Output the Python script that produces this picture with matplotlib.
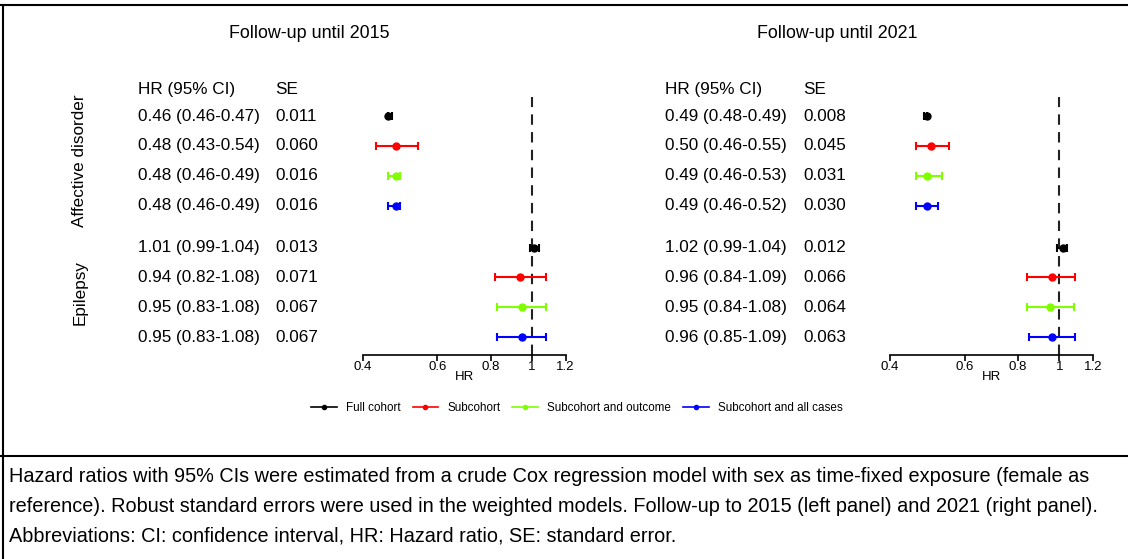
"""Forest plot: HR by sex, follow-up until 2015 and 2021"""

import matplotlib
matplotlib.use('Agg')
from matplotlib import pyplot as plt
from matplotlib.lines import Line2D
from matplotlib.transforms import blended_transform_factory

plt.rcParams['font.family'] = ['Liberation Sans', 'DejaVu Sans']

# Data
outcomes = ['Affective disorder', 'Epilepsy']
models = ['Full cohort', 'Subcohort', 'Subcohort and outcome', 'Subcohort and all cases']
colors = ['black', '#ff0000', '#7fff00', '#0000ff']

hr_2015 = [0.46, 0.48, 0.48, 0.48, 1.01, 0.94, 0.95, 0.95]
lo_2015 = [0.46, 0.43, 0.46, 0.46, 0.99, 0.82, 0.83, 0.83]
hi_2015 = [0.47, 0.54, 0.49, 0.49, 1.04, 1.08, 1.08, 1.08]
se_2015 = ['0.011', '0.060', '0.016', '0.016', '0.013', '0.071', '0.067', '0.067']

hr_2021 = [0.49, 0.50, 0.49, 0.49, 1.02, 0.96, 0.95, 0.96]
lo_2021 = [0.48, 0.46, 0.46, 0.46, 0.99, 0.84, 0.84, 0.85]
hi_2021 = [0.49, 0.55, 0.53, 0.52, 1.04, 1.09, 1.08, 1.09]
se_2021 = ['0.008', '0.045', '0.031', '0.030', '0.012', '0.066', '0.064', '0.063']

ticks = [0.4, 0.6, 0.8, 1, 1.2]
tick_labels = ['0.4', '0.6', '0.8', '1', '1.2']

caption = [
    "Hazard ratios with 95% CIs were estimated from a crude Cox regression model with sex as time-fixed exposure (female as",
    "reference). Robust standard errors were used in the weighted models. Follow-up to 2015 (left panel) and 2021 (right panel).",
    "Abbreviations: CI: confidence interval, HR: Hazard ratio, SE: standard error.",
]

W, H = 1128, 559
fig = plt.figure(figsize=(W / 100, H / 100), dpi=100)

# row positions: 4 rows per outcome, with a gap between outcomes
ypos = [i + (0.4 if i >= 4 else 0) for i in range(8)]
TXT = 12.3


def panel(left_px, hr_x, se_x, title_x, title, hr, lo, hi, se):
    ax = fig.add_axes([left_px / W, 1 - 355 / H, 203 / W, (355 - 97) / H])
    for i, y in enumerate(ypos):
        c = colors[i % 4]
        ax.errorbar(hr[i], y, xerr=[[hr[i] - lo[i]], [hi[i] - hr[i]]], fmt='o',
                    color=c, ms=5, lw=1.5, capsize=3.2, capthick=1.5)
    ax.axvline(1, color='#222222', lw=1.5, ls=(0, (5, 3.5)), zorder=0)
    ax.set_xscale('log')
    ax.set_xlim(0.4, 1.2)
    ax.set_ylim(7.4 + 0.6, -0.64)
    ax.set_xticks(ticks)
    ax.set_xticklabels(tick_labels)
    ax.minorticks_off()
    ax.set_yticks([])
    for s in ['top', 'right', 'left']:
        ax.spines[s].set_visible(False)
    ax.spines['bottom'].set_linewidth(1.2)
    ax.tick_params(axis='x', labelsize=9.5, length=4, width=1.2, pad=0)
    ax.set_xlabel('HR', fontsize=9.5, labelpad=-1)

    tr = blended_transform_factory(fig.transFigure, ax.transData)
    fig.text(hr_x / W, -0.9, 'HR (95% CI)', transform=tr, fontsize=TXT, va='center')
    fig.text(se_x / W, -0.9, 'SE', transform=tr, fontsize=TXT, va='center')
    for i, y in enumerate(ypos):
        fig.text(hr_x / W, y, f'{hr[i]:.2f} ({lo[i]:.2f}-{hi[i]:.2f})',
                 transform=tr, fontsize=TXT, va='center')
        fig.text(se_x / W, y, se[i], transform=tr, fontsize=TXT, va='center')
    fig.text(title_x / W, 1 - 33 / H, title, fontsize=12.9, ha='center', va='center')
    return ax


ax1 = panel(362.5, 138, 275, 309, 'Follow-up until 2015', hr_2015, lo_2015, hi_2015, se_2015)
ax2 = panel(890, 665, 803, 837, 'Follow-up until 2021', hr_2021, lo_2021, hi_2021, se_2021)

# outcome labels (rotated) on the left panel
tr1 = blended_transform_factory(fig.transFigure, ax1.transData)
fig.text(80 / W, sum(ypos[:4]) / 4, outcomes[0], transform=tr1, rotation=90,
         fontsize=TXT, ha='center', va='center')
fig.text(80 / W, sum(ypos[4:]) / 4, outcomes[1], transform=tr1, rotation=90,
         fontsize=TXT, ha='center', va='center')

# legend
handles = [Line2D([], [], color=c, marker='o', ms=3, lw=1.2) for c in colors]
fig.legend(handles, models, loc='center', bbox_to_anchor=(577 / W, 1 - 408 / H),
           ncol=4, frameon=False, fontsize=8.4, handlelength=2.2, columnspacing=1.0,
           handletextpad=0.8)

# frame lines
fig.add_artist(Line2D([0, 1], [1 - 4.5 / H, 1 - 4.5 / H], color='black', lw=1.5))
fig.add_artist(Line2D([3 / W, 3 / W], [0, 1 - 4.5 / H], color='black', lw=1.5))
fig.add_artist(Line2D([0, 1], [1 - 456 / H, 1 - 456 / H], color='black', lw=1.5))

# caption
for k, line in enumerate(caption):
    fig.text(9 / W, 1 - (476.5 + 29.5 * k) / H, line, fontsize=14.3, va='center')

fig.savefig('out.png', dpi=100)
